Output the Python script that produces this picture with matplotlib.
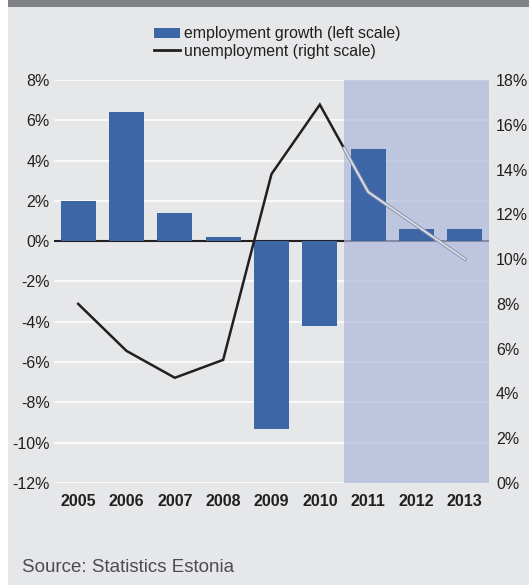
import numpy as np
import matplotlib.pyplot as plt
from matplotlib.patches import Rectangle
from matplotlib.lines import Line2D

# Data
years = ['2005', '2006', '2007', '2008', '2009', '2010', '2011', '2012', '2013']
employment_growth = [2.0, 6.4, 1.4, 0.2, -9.3, -4.2, 4.6, 0.6, 0.6]   # left scale, %
unemployment = [8.0, 5.9, 4.7, 5.5, 13.8, 16.9, 13.0, 11.5, 10.0]     # right scale, %
n_actual = 6  # 2005-2010 actual, the rest forecast

left_ticks = np.arange(-12, 9, 2)
right_ticks = np.arange(0, 19, 2)

bar_color = '#3d66a6'
bg_color = '#e6e7e9'
span_color = '#aeb9dc'

plt.rcParams['font.family'] = ['Liberation Sans', 'DejaVu Sans']

fig = plt.figure(figsize=(5.29, 5.85), dpi=100)
fig.patch.set_facecolor('white')
# panel background and top grey bar
fig.patches.append(Rectangle((8/529, 0), 1 - 8/529, 1 - 7/585, transform=fig.transFigure,
                             facecolor=bg_color, edgecolor='none', zorder=-1))
fig.patches.append(Rectangle((8/529, 1 - 7/585), 1 - 8/529, 7/585, transform=fig.transFigure,
                             facecolor='#808285', edgecolor='none', zorder=-1))

ax = fig.add_axes([54/529, 1 - 483/585, 435/529, 403/585])
ax.set_facecolor('none')
x = np.arange(len(years))

ax.set_axisbelow(True)
ax.yaxis.grid(True, color='white', linewidth=1.1)
ax.axhline(0, color='#231f20', linewidth=1.5, zorder=2)
ax.axvspan(n_actual - 0.5, len(years) - 0.5, color=span_color, alpha=0.7, lw=0, zorder=2.5)
ax.bar(x, employment_growth, width=0.73, color=bar_color, zorder=3)

ax.set_xlim(-0.5, len(years) - 0.5)
ax.set_ylim(-12, 8)
ax.set_yticks(left_ticks)
ax.set_yticklabels([f'{v}%' for v in left_ticks], fontsize=11.5, color='#231f20')
ax.set_xticks(x)
ax.set_xticklabels(years, fontsize=11.5, fontweight='bold', color='#231f20')
ax.tick_params(length=0, axis='y', pad=3)
ax.tick_params(length=0, axis='x', pad=8)
for s in ax.spines.values():
    s.set_visible(False)

ax2 = ax.twinx()
ax2.set_ylim(0, 18)
ax2.set_yticks(right_ticks)
ax2.set_yticklabels([f'{v}%' for v in right_ticks], fontsize=11.5, color='#231f20')
ax2.tick_params(length=0, pad=5)
for s in ax2.spines.values():
    s.set_visible(False)

# actual part in black, forecast part as a light outlined line
mid_x = n_actual - 0.5
mid_y = (unemployment[n_actual - 1] + unemployment[n_actual]) / 2
ax2.plot(list(x[:n_actual]) + [mid_x], unemployment[:n_actual] + [mid_y],
         color='#231f20', linewidth=1.8, solid_joinstyle='miter')
fx = [mid_x] + list(x[n_actual:])
fy = [mid_y] + unemployment[n_actual:]
ax2.plot(fx, fy, color='#8d93a8', linewidth=2.6)
ax2.plot(fx, fy, color='#dde1ee', linewidth=1.2)

handles = [Rectangle((0, 0), 1, 1, facecolor=bar_color, edgecolor='none'),
           Line2D([], [], color='#231f20', linewidth=2)]
fig.legend(handles, ['employment growth (left scale)', 'unemployment (right scale)'],
           loc='upper center', bbox_to_anchor=(0.524, 0.966), frameon=False,
           fontsize=11.4, handlelength=1.65, handleheight=0.6, handletextpad=0.25,
           labelspacing=0.15, borderaxespad=0, labelcolor='#231f20')

fig.text(22/529, 1 - 568/585, 'Source: Statistics Estonia', fontsize=13.5,
         color='#4d4d4f', va='center')

fig.savefig('out.png', dpi=100)
